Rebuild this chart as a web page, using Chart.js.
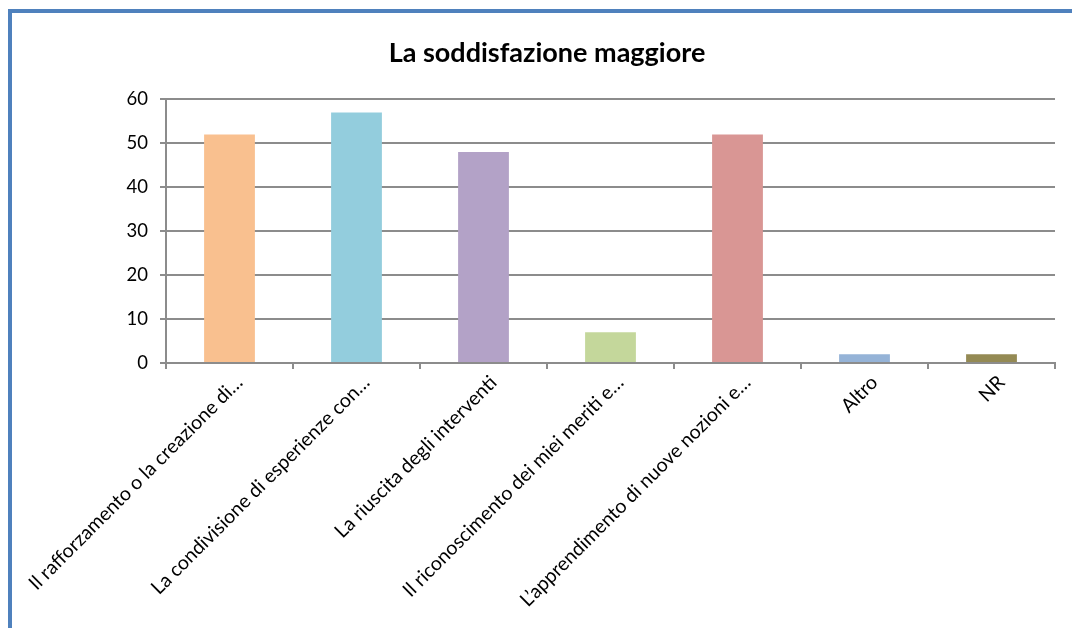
<!DOCTYPE html>
<html>
<head>
<meta charset="utf-8">
<script src="https://cdn.jsdelivr.net/npm/chart.js@4"></script>
<style>
  html, body { margin: 0; padding: 0; background: #fff; }
  #wrap { position: relative; width: 1072px; height: 628px; overflow: hidden; }
  #frame { position: absolute; left: 8px; top: 9px; width: 1100px; height: 700px;
           border-left: 4px solid #4F81BD; border-top: 4px solid #4F81BD; box-sizing: border-box; }
  canvas { position: absolute; left: 0; top: 0; }
</style>
</head>
<body>
<div id="wrap">
  <div id="frame"></div>
  <canvas id="chart" width="1072" height="628"></canvas>
</div>
<script>
const categories = [
  "Il rafforzamento o la creazione di…",
  "La condivisione di esperienze con…",
  "La riuscita degli interventi",
  "Il riconoscimento dei miei meriti e…",
  "L’apprendimento di nuove nozioni e…",
  "Altro",
  "NR"
];
const values = [52, 57, 48, 7, 52, 2, 2];
const barColors = ["#F9C08F", "#93CDDD", "#B3A2C7", "#C4D79B", "#D99694", "#95B3D7", "#948A54"];
const yTicks = [0, 10, 20, 30, 40, 50, 60];

const gridColor = "#8C8C8C";
const font = "Lato";

const ctx = document.getElementById("chart").getContext("2d");
new Chart(ctx, {
  type: "bar",
  data: {
    labels: categories,
    datasets: [{
      data: values,
      backgroundColor: barColors,
      barPercentage: 0.8,
      categoryPercentage: 0.5
    }]
  },
  options: {
    responsive: false,
    animation: false,
    layout: { padding: { left: 39, right: 17, top: 0, bottom: 0 } },
    plugins: {
      legend: { display: false },
      tooltip: { enabled: false },
      title: {
        display: true,
        text: "La soddisfazione maggiore",
        color: "#000",
        font: { family: font, size: 27, weight: "bold" },
        padding: { top: 37, bottom: 30 }
      }
    },
    scales: {
      y: {
        min: 0,
        max: 60,
        afterBuildTicks: (s) => { s.ticks = yTicks.map(v => ({ value: v })); },
        afterFit: (s) => { s.width = 127; },
        grid: { color: gridColor, lineWidth: 2, tickLength: 6 },
        border: { color: gridColor, width: 2 },
        ticks: { color: "#000", padding: 12, font: { family: font, size: 18.5 } }
      },
      x: {
        afterFit: (s) => { s.height = 265; s.paddingLeft = 0; s.paddingRight = 0; },
        grid: { drawOnChartArea: false, color: gridColor, lineWidth: 2, tickLength: 6 },
        border: { color: gridColor, width: 2 },
        ticks: {
          color: "#000", padding: 2, labelOffset: 10, autoSkip: false,
          maxRotation: 45, minRotation: 45,
          font: { family: font, size: 19.5 }
        }
      }
    }
  }
});
</script>
</body>
</html>
